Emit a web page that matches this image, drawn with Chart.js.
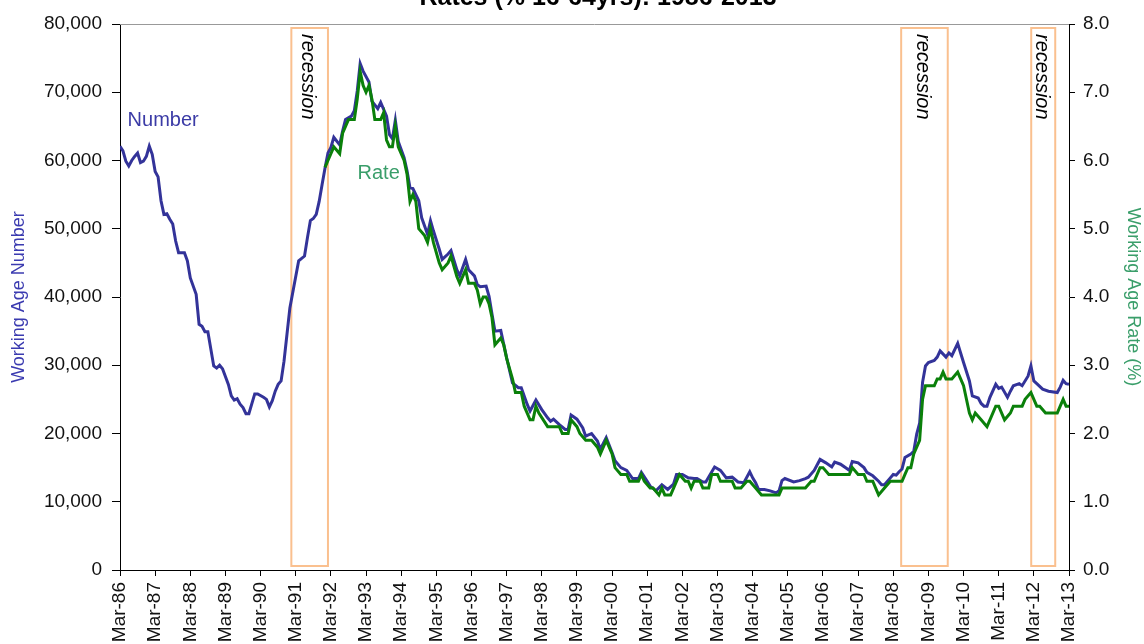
<!DOCTYPE html>
<html>
<head>
<meta charset="utf-8">
<script src="https://cdn.jsdelivr.net/npm/chart.js@4"></script>
<style>
  html, body { margin: 0; padding: 0; background: #fff; }
  #wrap { width: 1144px; height: 644px; }
</style>
</head>
<body>
<div id="wrap"><canvas id="chart" width="1144" height="644"></canvas></div>
<script>
// Months counted from Mar-86 (0) to Mar-13 (324)

let tickLabels = ["Mar-86", "Mar-87", "Mar-88", "Mar-89", "Mar-90", "Mar-91", "Mar-92",
  "Mar-93", "Mar-94", "Mar-95", "Mar-96", "Mar-97", "Mar-98", "Mar-99", "Mar-00",
  "Mar-01", "Mar-02", "Mar-03", "Mar-04", "Mar-05", "Mar-06", "Mar-07", "Mar-08",
  "Mar-09", "Mar-10", "Mar-11", "Mar-12", "Mar-13"];

// Working age number

let numMonths = [
  0, 1, 2, 3, 4, 5, 6, 7, 8, 9,
  10, 11, 12, 13, 14, 15, 16, 17, 18, 19,
  20, 22, 23, 24, 26, 27, 28, 29, 30, 32,
  33, 34, 35, 37, 38, 39, 40, 41, 42, 43,
  44, 46, 47, 49, 50, 51, 52, 53, 54, 55,
  56, 57, 58, 61, 63, 64, 65, 66, 67, 68,
  69, 70, 71, 72, 73, 75, 76, 77, 79, 80,
  81, 82, 83, 85, 86, 88, 89, 91, 92, 93,
  94, 95, 97, 98, 99, 100, 102, 103, 105, 106,
  107, 109, 110, 112, 113, 115, 116, 118, 119, 121,
  122, 123, 125, 126, 127, 128, 130, 131, 132, 134,
  136, 137, 139, 140, 142, 144, 146, 147, 148, 150,
  152, 153, 154, 156, 158, 159, 161, 163, 164, 166,
  168, 169, 171, 173, 175, 177, 178, 180, 181, 183,
  185, 187, 189, 190, 192, 194, 196, 197, 199, 200,
  203, 205, 207, 209, 211, 213, 215, 216, 217, 218,
  220, 222, 224, 225, 226, 227, 230, 232, 234, 235,
  237, 239, 241, 243, 244, 246, 248, 249, 250, 252,
  254, 255, 257, 259, 260, 261, 263, 264, 265, 266,
  267, 268, 270, 271, 272, 273, 274, 275, 276, 278,
  279, 280, 282, 283, 284, 286, 287, 288, 290, 291,
  293, 294, 295, 296, 297, 299, 300, 301, 303, 304,
  305, 307, 308, 310, 311, 312, 313, 315, 317, 320,
  321, 322, 323, 324
];
let numValues = [
  62100, 61400, 59900, 59200, 60000, 60600, 61100, 59700, 59900, 60600,
  62100, 60900, 58400, 57600, 54100, 52100, 52200, 51400, 50700, 48200,
  46500, 46500, 45300, 42800, 40400, 36000, 35700, 34900, 34900, 29900,
  29600, 30000, 29500, 27200, 25500, 24900, 25100, 24300, 23800, 22900,
  22900, 25800, 25800, 25300, 25000, 23900, 24800, 26200, 27200, 27700,
  30600, 34500, 38400, 45300, 46000, 48700, 51200, 51500, 52100, 54000,
  56500, 58900, 61100, 61900, 63400, 62300, 64300, 66000, 66500, 67300,
  70200, 74200, 73100, 71500, 68700, 67600, 68500, 66500, 63800, 63200,
  65900, 62800, 60400, 58500, 56000, 55900, 54100, 51600, 49200, 51200,
  49700, 47000, 45500, 46300, 46800, 44000, 43100, 45500, 44000, 43100,
  41800, 41500, 41600, 40100, 37500, 35000, 35100, 33100, 31100, 27400,
  26700, 26700, 24300, 23300, 24900, 23500, 22300, 21800, 22100, 21300,
  20600, 20600, 22700, 22100, 20800, 19600, 20000, 18900, 17700, 19400,
  17200, 16000, 15000, 14600, 13400, 13400, 14300, 13000, 12300, 11600,
  12500, 11800, 12600, 14000, 14000, 13500, 13400, 13400, 12900, 12900,
  15100, 14600, 13500, 13600, 12900, 12800, 14400, 13500, 12800, 11800,
  11800, 11600, 11300, 11600, 13100, 13400, 12900, 13100, 13400, 13600,
  14600, 16200, 15700, 15100, 15800, 15500, 14900, 14600, 15900, 15700,
  15000, 14300, 13800, 13000, 12500, 12500, 13500, 14000, 13900, 14400,
  14800, 16500, 17000, 17400, 19900, 21500, 27500, 29900, 30400, 30700,
  31200, 32100, 31200, 31800, 31400, 33200, 31800, 30400, 27700, 25500,
  25200, 24400, 24000, 24000, 25300, 27200, 26600, 26800, 25300, 26200,
  27000, 27300, 27000, 28400, 29900, 27700, 27300, 26500, 26200, 26000,
  26800, 27800, 27300, 27200
];

// Working age rate (%)

let rateMonths = [
  70, 71, 73, 75, 76, 77, 78, 80, 81, 82,
  83, 84, 85, 86, 87, 89, 90, 91, 92, 93,
  94, 95, 97, 98, 99, 100, 101, 102, 104, 105,
  106, 107, 109, 110, 112, 113, 115, 116, 118, 119,
  121, 122, 123, 124, 125, 126, 127, 128, 130, 131,
  132, 134, 135, 137, 138, 140, 141, 142, 143, 146,
  148, 150, 151, 153, 154, 156, 157, 159, 161, 163,
  164, 166, 168, 169, 171, 173, 174, 177, 178, 179,
  181, 182, 184, 185, 186, 188, 189, 191, 193, 194,
  195, 196, 198, 199, 201, 202, 204, 205, 209, 210,
  212, 214, 215, 217, 219, 225, 226, 234, 236, 237,
  239, 240, 242, 249, 250, 252, 254, 255, 257, 258,
  259, 261, 263, 267, 268, 269, 270, 271, 273, 274,
  275, 276, 278, 279, 280, 281, 282, 284, 286, 287,
  288, 290, 291, 292, 294, 296, 297, 299, 300, 302,
  304, 305, 308, 309, 311, 312, 313, 314, 316, 320,
  321, 322, 323, 324
];
let rateValues = [
  5.9, 6.0, 6.2, 6.1, 6.4, 6.5, 6.6, 6.6, 6.9, 7.3,
  7.1, 7.0, 7.1, 6.9, 6.6, 6.6, 6.7, 6.3, 6.2, 6.2,
  6.5, 6.2, 6.0, 5.8, 5.4, 5.5, 5.4, 5.0, 4.9, 4.8,
  5.0, 4.8, 4.5, 4.4, 4.5, 4.6, 4.3, 4.2, 4.4, 4.2,
  4.2, 4.1, 3.9, 4.0, 4.0, 3.9, 3.7, 3.3, 3.4, 3.3,
  3.1, 2.8, 2.6, 2.6, 2.4, 2.2, 2.2, 2.4, 2.3, 2.1,
  2.1, 2.1, 2.0, 2.0, 2.2, 2.1, 2.0, 1.9, 1.9, 1.8,
  1.7, 1.9, 1.7, 1.5, 1.4, 1.4, 1.3, 1.3, 1.4, 1.3,
  1.2, 1.2, 1.1, 1.2, 1.1, 1.1, 1.2, 1.4, 1.3, 1.3,
  1.2, 1.3, 1.3, 1.2, 1.2, 1.4, 1.4, 1.3, 1.3, 1.2,
  1.2, 1.3, 1.3, 1.2, 1.1, 1.1, 1.2, 1.2, 1.3, 1.3,
  1.5, 1.5, 1.4, 1.4, 1.5, 1.4, 1.4, 1.3, 1.3, 1.2,
  1.1, 1.2, 1.3, 1.3, 1.4, 1.5, 1.5, 1.7, 1.9, 2.5,
  2.7, 2.7, 2.7, 2.8, 2.8, 2.9, 2.8, 2.8, 2.9, 2.8,
  2.7, 2.3, 2.2, 2.3, 2.2, 2.1, 2.2, 2.4, 2.4, 2.2,
  2.3, 2.4, 2.4, 2.5, 2.6, 2.5, 2.4, 2.4, 2.3, 2.3,
  2.4, 2.5, 2.4, 2.4
];

// Recession periods (months from Mar-86)

let recessionStart = [58.5, 266.7, 311.1];
let recessionEnd = [71, 282.6, 319.3];

const FONT = '"Liberation Sans", Arial, sans-serif';

function toPoints(xs, ys) {
  return xs.map((m, i) => ({ x: m, y: ys[i] }));
}

// Boxes, labels, title

const overlay = {
  id: "overlay",
  beforeDatasetsDraw(chart) {
    const { ctx, chartArea, scales } = chart;
    ctx.save();
    ctx.strokeStyle = "#FAC08F";
    ctx.lineWidth = 2;
    for (let i = 0; i < recessionStart.length; i++) {
      const x0 = scales.x.getPixelForValue(recessionStart[i]);
      const x1 = scales.x.getPixelForValue(recessionEnd[i]);
      const y0 = chartArea.top + 4;
      const y1 = chartArea.bottom - 4;
      ctx.strokeRect(x0, y0, x1 - x0, y1 - y0);
      ctx.save();
      ctx.translate((x0 + x1) / 2 - 2, y0 + 6);
      ctx.rotate(Math.PI / 2);
      ctx.font = "italic 20px " + FONT;
      ctx.fillStyle = "#000";
      ctx.textAlign = "left";
      ctx.textBaseline = "middle";
      ctx.fillText("recession", 0, 0);
      ctx.restore();
    }
    ctx.restore();
  },
  afterDraw(chart) {
    const { ctx, chartArea, scales } = chart;
    ctx.save();
    // top border of plot
    ctx.strokeStyle = "#999";
    ctx.lineWidth = 1;
    ctx.beginPath();
    ctx.moveTo(chartArea.left, chartArea.top + 0.5);
    ctx.lineTo(chartArea.right, chartArea.top + 0.5);
    ctx.stroke();

    // series labels
    ctx.font = "20px " + FONT;
    ctx.textBaseline = "middle";
    ctx.textAlign = "left";
    ctx.fillStyle = "#3B3BA6";
    ctx.fillText("Number", scales.x.getPixelForValue(2.6), scales.y.getPixelForValue(65800));
    ctx.fillStyle = "#3A9E6A";
    ctx.fillText("Rate", scales.x.getPixelForValue(81.1), scales.y1.getPixelForValue(5.81));

    // title (cut at top of frame)
    ctx.font = "bold 25px " + FONT;
    ctx.fillStyle = "#000";
    ctx.textAlign = "center";
    ctx.textBaseline = "alphabetic";
    ctx.fillText("Rates (% 16-64yrs): 1986-2013", 598, 5);
    ctx.restore();
  }
};

var ctx = document.getElementById("chart").getContext("2d");
var chart = new Chart(ctx, {
  type: "line",
  data: {
    datasets: [
      {
        label: "Rate",
        data: toPoints(rateMonths, rateValues),
        yAxisID: "y1",
        borderColor: "#0A800A",
        borderWidth: 3,
        pointRadius: 0,
        tension: 0,
        order: 0,
      },
      {
        label: "Number",
        data: toPoints(numMonths, numValues),
        yAxisID: "y",
        borderColor: "#333399",
        borderWidth: 3,
        pointRadius: 0,
        tension: 0,
        order: 1,
      },
    ],
  },
  options: {
    responsive: false,
    animation: false,
    devicePixelRatio: 1,
    layout: { padding: { top: 24, left: 0, right: 0, bottom: 0 } },
    plugins: {
      legend: { display: false },
      tooltip: { enabled: false },
    },
    scales: {
      x: {
        type: "linear",
        min: 0,
        max: 324,
        grid: { drawOnChartArea: false, color: "#000", tickLength: 6 },
        border: { color: "#000", width: 1 },
        ticks: {
          stepSize: 12,
          autoSkip: false,
          minRotation: 90,
          maxRotation: 90,
          padding: 6,
          color: "#111",
          font: { family: FONT, size: 19 },
          callback: (v) => tickLabels[v / 12],
        },
        afterFit: (s) => { s.height = 74; },
      },
      y: {
        position: "left",
        min: 0,
        max: 80000,
        grid: { drawOnChartArea: false, color: "#000", tickLength: 8 },
        border: { color: "#000", width: 1 },
        ticks: {
          stepSize: 10000,
          padding: 10,
          color: "#111",
          font: { family: FONT, size: 19 },
          callback: (v) => v.toLocaleString("en-US"),
        },
        title: {
          display: true,
          text: "Working Age Number",
          color: "#3B3BB0",
          font: { family: FONT, size: 18 },
          padding: { top: 8, bottom: 0 },
        },
        afterFit: (s) => { s.width = 120; },
      },
      y1: {
        position: "right",
        min: 0,
        max: 8,
        grid: { drawOnChartArea: false, color: "#000", tickLength: 6 },
        border: { color: "#000", width: 1 },
        ticks: {
          stepSize: 1,
          padding: 8,
          color: "#111",
          font: { family: FONT, size: 19 },
          callback: (v) => v.toFixed(1),
        },
        title: {
          display: true,
          text: "Working Age Rate (%)",
          color: "#3A9E6A",
          font: { family: FONT, size: 18 },
          padding: { top: 0, bottom: 0 },
        },
        afterFit: (s) => { s.width = 75; },
      },
    },
  },
  plugins: [overlay],
});
</script>
</body>
</html>
